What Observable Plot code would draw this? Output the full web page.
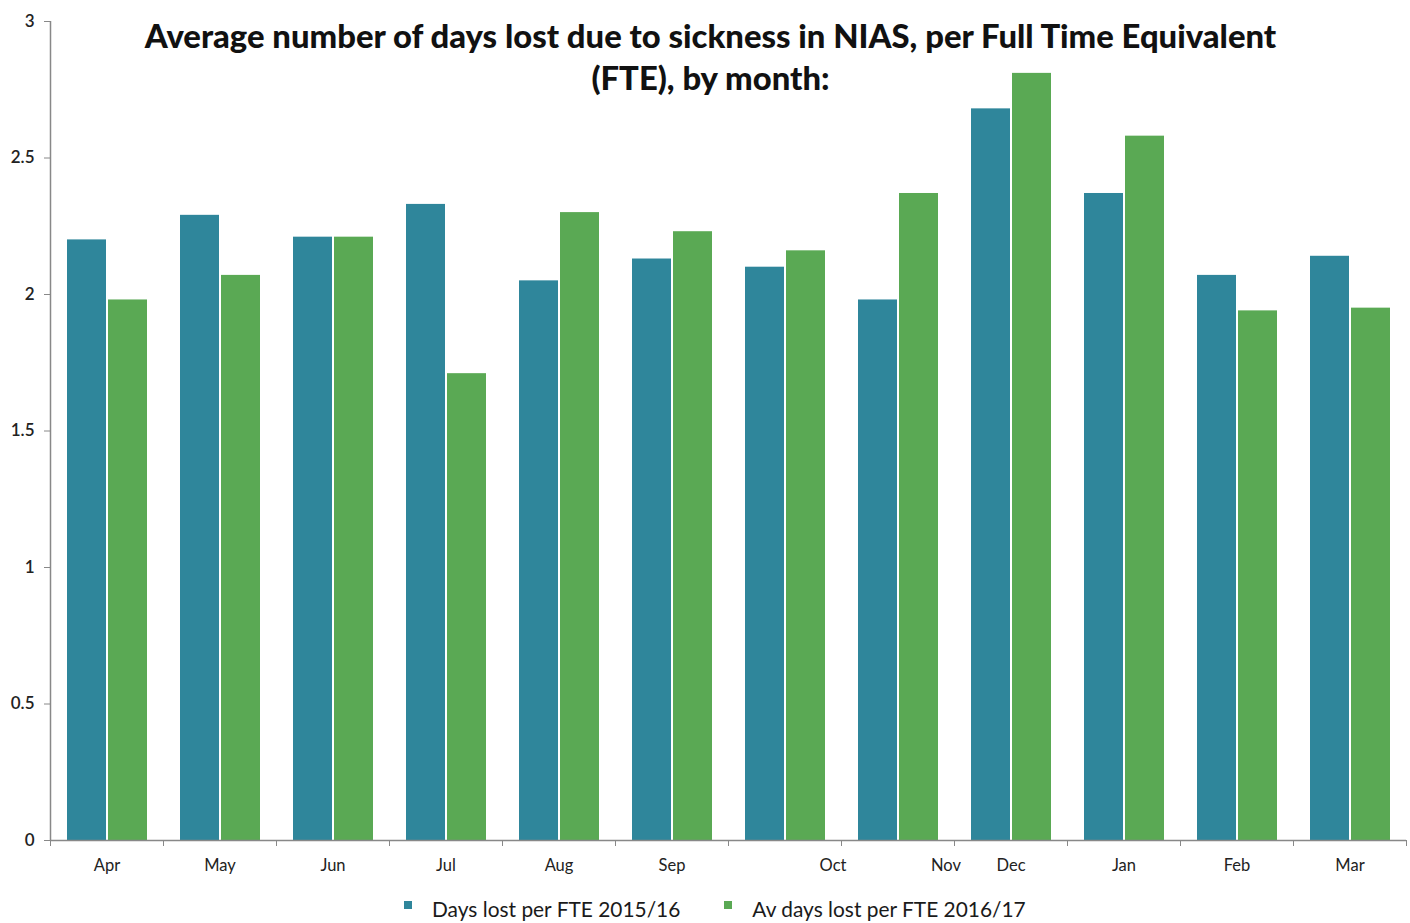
<!DOCTYPE html>
<html>
<head>
<meta charset="utf-8">
<script src="https://cdn.jsdelivr.net/npm/d3@7"></script>
<script src="https://cdn.jsdelivr.net/npm/@observablehq/plot@0.6"></script>
<style>
  html, body { margin: 0; padding: 0; background: #fff; }
  #wrap { position: relative; width: 1410px; height: 923px; font-family: Lato, "Open Sans", sans-serif; }
  #legend { position: absolute; left: 404px; top: 896px; display: flex; align-items: center; font-size: 20.9px; color: #1a1a1a; }
  .sw { display: inline-block; width: 8px; height: 8px; margin-right: 20px; position: relative; top: -4px; }
  .item { display: flex; align-items: center; }
</style>
</head>
<body>
<div id="wrap">
  <div id="chart"></div>
  <div id="legend"></div>
</div>
<script>
const months = ["Apr","May","Jun","Jul","Aug","Sep","Oct","Nov","Dec","Jan","Feb","Mar"];
const days2015_16 = [2.20, 2.29, 2.21, 2.33, 2.05, 2.13, 2.10, 1.98, 2.68, 2.37, 2.07, 2.14];
const avDays2016_17 = [1.98, 2.07, 2.21, 1.71, 2.30, 2.23, 2.16, 2.37, 2.81, 2.58, 1.94, 1.95];
const seriesNames = ["Days lost per FTE 2015/16", "Av days lost per FTE 2016/17"];
const seriesColors = ["#2f869b", "#5aa954"];
const yTicks = [0, 0.5, 1, 1.5, 2, 2.5, 3];
const shiftedLabels = ["Oct", "Nov"];
const title = "Average number of days lost due to sickness in NIAS, per Full Time Equivalent\n(FTE), by month:";

const rowsA = months.map((m, i) => ({i, month: m, value: days2015_16[i]}));
const rowsB = months.map((m, i) => ({i, month: m, value: avDays2016_17[i]}));
const monthRows = months.map((m, i) => ({i, month: m}));

const chart = Plot.plot({
  width: 1410,
  height: 885,
  marginLeft: 50,
  marginRight: 4,
  marginTop: 21,
  marginBottom: 45,
  style: {fontFamily: "Lato, 'Open Sans', sans-serif", color: "#222"},
  x: {type: "linear", domain: [0, months.length], axis: null},
  y: {domain: [0, 3], axis: null},
  marks: [
    Plot.rectY(rowsA, {x1: d => d.i, x2: d => d.i + 1, y: "value", fill: seriesColors[0], insetLeft: 17, insetRight: 57}),
    Plot.rectY(rowsB, {x1: d => d.i, x2: d => d.i + 1, y: "value", fill: seriesColors[1], insetLeft: 58, insetRight: 16}),
    Plot.axisY(yTicks, {label: null, tickSize: 6, tickFormat: () => "", stroke: "#888"}),
    Plot.text(yTicks, {x: 0, y: d => d, text: d => String(d), textAnchor: "end", dx: -16, fontSize: 17, fontWeight: 600, fill: "#222"}),
    Plot.axisX(d3.range(months.length + 1), {label: null, tickSize: 6, tickFormat: () => "", stroke: "#888"}),
    Plot.ruleX([0], {stroke: "#888", strokeWidth: 1.5}),
    Plot.ruleY([0], {stroke: "#888", strokeWidth: 1.5}),
    Plot.text(monthRows.filter(d => !shiftedLabels.includes(d.month)), {x: d => d.i + 0.5, y: 0, text: "month", dy: 25, fontSize: 16.5, fill: "#222"}),
    Plot.text(monthRows.filter(d => shiftedLabels.includes(d.month)), {x: d => d.i + 0.5, y: 0, text: "month", dy: 25, dx: 48, fontSize: 16.5, fill: "#222"}),
    Plot.text([title], {frameAnchor: "top", lineAnchor: "top", dy: -4, dx: -18, fontSize: 32.8, fontWeight: 900, lineHeight: 1.3, fill: "#111", text: d => d})
  ]
});
document.getElementById("chart").appendChild(chart);

const legend = document.getElementById("legend");
seriesNames.forEach((name, k) => {
  const item = document.createElement("div");
  item.className = "item";
  if (k > 0) item.style.marginLeft = "44px";
  const sw = document.createElement("span");
  sw.className = "sw";
  sw.style.background = seriesColors[k];
  item.appendChild(sw);
  const t = document.createElement("span");
  t.textContent = name;
  item.appendChild(t);
  legend.appendChild(item);
});
</script>
</body>
</html>
